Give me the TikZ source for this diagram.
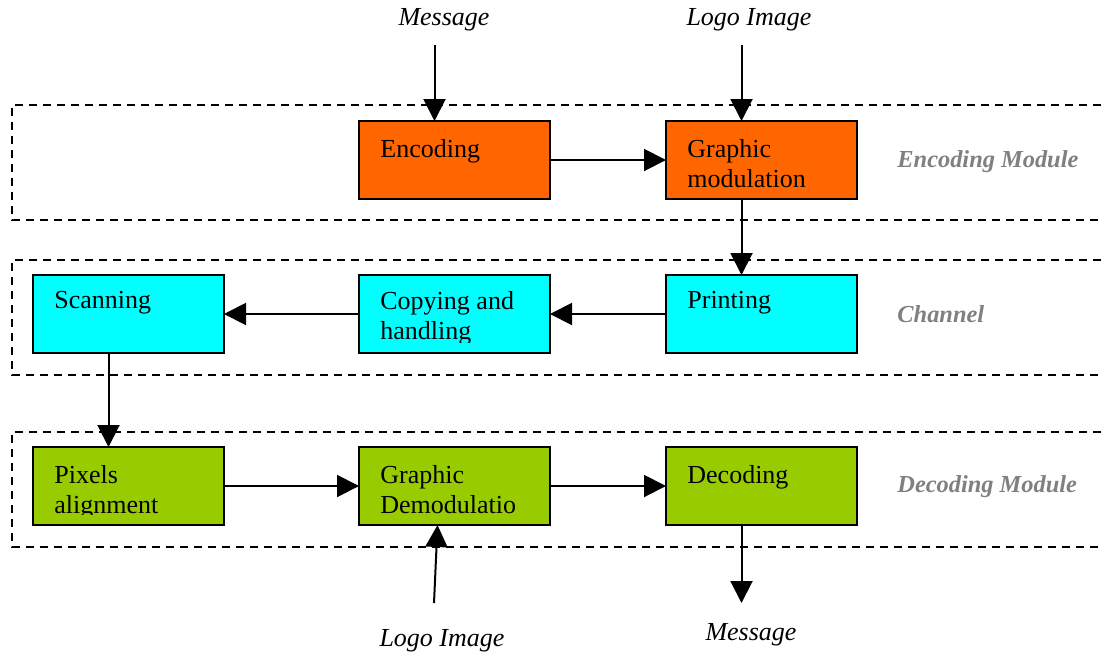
\documentclass[tikz,border=0pt]{standalone}
\usepackage{fontspec}
\setmainfont{Liberation Serif}
\usetikzlibrary{arrows.meta, positioning, calc}
\definecolor{encfill}{HTML}{FF6600}
\definecolor{chanfill}{HTML}{00FFFF}
\definecolor{decfill}{HTML}{99CC00}
\definecolor{modgray}{HTML}{808080}
\tikzset{
  block/.style={rectangle, draw=black, line width=0.9pt, minimum width=95.5pt,
                minimum height=39pt, inner sep=0pt, outer sep=0pt},
  blocktext/.style={anchor=north west, inner sep=0pt, align=left,
                    font=\fontsize{13}{15}\selectfont},
  encblock/.style ={block, fill=encfill},
  chanblock/.style={block, fill=chanfill},
  decblock/.style ={block, fill=decfill},
  module/.style={anchor=base west, inner sep=0pt, text=modgray,
                 font=\fontsize{12.2}{14}\selectfont\bfseries\itshape},
  signal/.style={anchor=base, inner sep=0pt, font=\fontsize{13}{15}\selectfont\itshape},
  frame/.style ={draw=black, line width=1pt, dash pattern=on 4pt off 3pt},
  arr/.style   ={-{Triangle[length=11pt, width=11pt]}, line width=1pt},
}

\begin{document}
\begin{tikzpicture}[x=0.5pt, y=-0.5pt]
\useasboundingbox (0,0) rectangle (1103,654);

% module frames, open on the right
\draw[frame] (1115,105) -| (12,220) -- (1115,220);
\draw[frame] (1115,260) -| (12,375) -- (1115,375);
\draw[frame] (1115,432) -| (12,547) -- (1115,547);

% encoding row
\node[encblock] (enc) at (454.5,160) {};
\node[encblock, right=58pt of enc] (gmod) {};

% channel row
\node[chanblock, below=38pt of gmod] (print) {};
\node[chanblock, left=58pt of print] (copy) {};
\node[chanblock, left=67.5pt of copy] (scan) {};

% decoding row
\node[decblock, below=47pt of scan] (pix) {};
\node[decblock, right=67.5pt of pix] (demod) {};
\node[decblock, right=58pt of demod] (dec) {};

% block texts, cut off a little above the bottom edge
\begin{scope}
  \clip (enc.north west) rectangle ($(enc.south east)+(0,5.5pt)$)
        (gmod.north west) rectangle ($(gmod.south east)+(0,5.5pt)$)
        (print.north west) rectangle ($(print.south east)+(0,5.5pt)$)
        (copy.north west) rectangle ($(copy.south east)+(0,5.5pt)$)
        (scan.north west) rectangle ($(scan.south east)+(0,5.5pt)$)
        (pix.north west) rectangle ($(pix.south east)+(0,5.5pt)$)
        (demod.north west) rectangle ($(demod.south east)+(0,5.5pt)$)
        (dec.north west) rectangle ($(dec.south east)+(0,5.5pt)$);
  \node[blocktext] (enc-t) at ($(enc.north west)+(10.5pt,-9pt)$) {Encoding};
  \node[blocktext] (gmod-t) at ($(gmod.north west)+(10.5pt,-9pt)$) {Graphic\\modulation};
  \node[blocktext] (print-t) at ($(print.north west)+(10.5pt,-8pt)$) {Printing};
  \node[blocktext] (copy-t) at ($(copy.north west)+(10.5pt,-8pt)$) {Copying and\\handling};
  \node[blocktext] (scan-t) at ($(scan.north west)+(10.5pt,-8pt)$) {Scanning};
  \node[blocktext] (pix-t) at ($(pix.north west)+(10.5pt,-9pt)$) {Pixels\\alignment};
  \node[blocktext] (demod-t) at ($(demod.north west)+(10.5pt,-9pt)$) {Graphic\\Demodulatio};
  \node[blocktext] (dec-t) at ($(dec.north west)+(10.5pt,-9pt)$) {Decoding};
\end{scope}

% module names
\node[module] (encmod) at (897,167) {Encoding Module};
\node[module] (chanmod) at (897,322) {Channel};
\node[module] (decmod) at (897,492) {Decoding Module};

% inputs and outputs
\node[signal] (msgin) at (444,25) {Message};
\node[signal] (logoin) at (749,25) {Logo Image};
\node[signal] (logoout) at (442,646) {Logo Image};
\node[signal] (msgout) at (751,640) {Message};

\coordinate (msgstart) at ($(enc.north)+(-10pt,38pt)$);
\coordinate (logostart) at ($(gmod.north)+(-10pt,38pt)$);
\coordinate (logo2start) at (434,603);
\coordinate (msgend) at ($(dec.south)+(-10pt,-39pt)$);

\draw[arr] (msgstart) -- ([xshift=-10pt]enc.north);
\draw[arr] (logostart) -- ([xshift=-10pt]gmod.north);
\draw[arr] (enc) -- (gmod);
\draw[arr] ([xshift=-10pt]gmod.south) -- ([xshift=-10pt]print.north);
\draw[arr] (print) -- (copy);
\draw[arr] (copy) -- (scan);
\draw[arr] ([xshift=-10pt]scan.south) -- ([xshift=-10pt]pix.north);
\draw[arr] (pix) -- (demod);
\draw[arr] (demod) -- (dec);
\draw[arr] (logo2start) -- ([xshift=-8.5pt]demod.south);
\draw[arr] ([xshift=-10pt]dec.south) -- (msgend);

\end{tikzpicture}
\end{document}
